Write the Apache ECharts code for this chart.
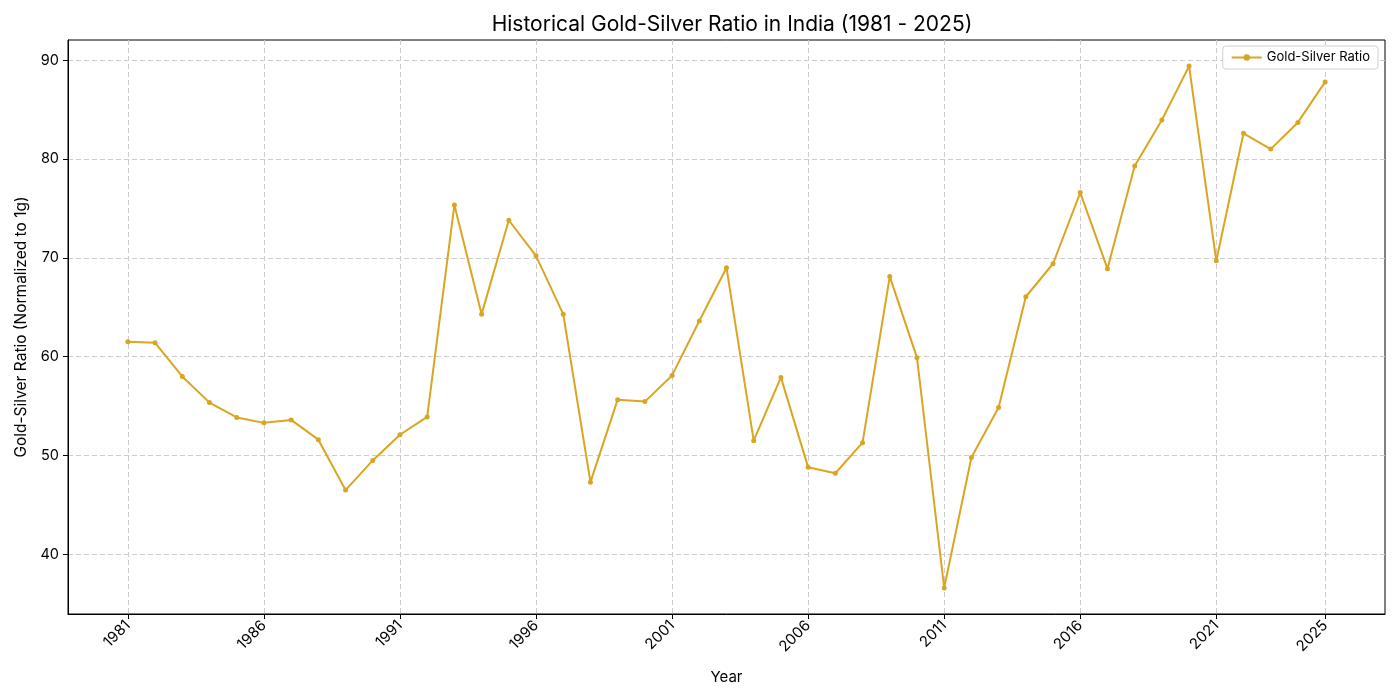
<!DOCTYPE html>
<html>
<head>
<meta charset="utf-8">
<script src="https://cdn.jsdelivr.net/npm/echarts@6/dist/echarts.min.js"></script>
<style>html,body{margin:0;padding:0;background:#fff}#c{width:1400px;height:700px}</style>
</head>
<body>
<div id="c"></div>
<script>
const years = [1981,1982,1983,1984,1985,1986,1987,1988,1989,1990,1991,1992,1993,1994,1995,1996,1997,1998,1999,2000,2001,2002,2003,2004,2005,2006,2007,2008,2009,2010,2011,2012,2013,2014,2015,2016,2017,2018,2019,2020,2021,2022,2023,2024,2025];
const ratio = [61.5,61.4,58.0,55.35,53.85,53.3,53.6,51.6,46.5,49.5,52.1,53.9,75.35,64.3,73.8,70.2,64.3,47.3,55.65,55.45,58.1,63.6,69.0,51.5,57.9,48.8,48.2,51.3,68.1,59.9,36.6,49.8,54.85,66.06,69.4,76.6,68.9,79.3,83.95,89.4,69.7,82.6,81.0,83.7,87.8];
const xTicks = [1981,1986,1991,1996,2001,2006,2011,2016,2021,2025];
const yTicks = [40,50,60,70,80,90];

const FONT = 'Inter';
const color = '#DAA520';
const chart = echarts.init(document.getElementById('c'), null, {renderer:'canvas'});
const gridLine = {show:true, lineStyle:{color:'#cccccc', type:[5,3], width:1}};
chart.setOption({
  animation:false,
  textStyle:{fontFamily:FONT},
  title:{text:'Historical Gold-Silver Ratio in India (1981 - 2025)', left:727, textAlign:'center', top:9,
    textStyle:{fontFamily:FONT, fontSize:21, fontWeight:'normal', color:'#000'}},
  legend:{data:['Gold-Silver Ratio'], right:22, top:46, orient:'vertical',
    backgroundColor:'#fff', borderColor:'#d0d0d0', borderWidth:1, borderRadius:3,
    padding:[5,8,5,8], itemWidth:30, itemHeight:8, itemGap:4,
    textStyle:{fontFamily:FONT, fontSize:13, color:'#000'}},
  grid:{left:68, right:15, top:40, bottom:86, show:true, borderColor:'#000', borderWidth:1, containLabel:false},
  xAxis:{type:'value', min:1978.8, max:2027.2,
    name:'Year', nameLocation:'middle', nameGap:56,
    nameTextStyle:{fontFamily:FONT, fontSize:15, color:'#000'},
    axisLine:{show:true, lineStyle:{color:'#000'}},
    axisTick:{show:true, length:5, lineStyle:{color:'#000'}, customValues:xTicks},
    axisLabel:{customValues:xTicks, rotate:45, fontFamily:FONT, fontSize:15, color:'#000', margin:9,
      formatter:v=>String(Math.round(v))},
    splitLine:gridLine},
  yAxis:{type:'value', min:33.96, max:92.04,
    name:'Gold-Silver Ratio (Normalized to 1g)', nameLocation:'middle', nameGap:37,
    nameTextStyle:{fontFamily:FONT, fontSize:15.5, color:'#000'},
    axisLine:{show:true, lineStyle:{color:'#000'}},
    axisTick:{show:true, length:5, lineStyle:{color:'#000'}, customValues:yTicks},
    axisLabel:{customValues:yTicks, fontFamily:FONT, fontSize:14.5, color:'#000', margin:9},
    splitLine:gridLine},
  series:[{name:'Gold-Silver Ratio', type:'line', data:years.map((y,i)=>[y,ratio[i]]),
    symbol:'circle', symbolSize:5, showSymbol:true,
    lineStyle:{color:color, width:2}, itemStyle:{color:color}}]
});
</script>
</body>
</html>
